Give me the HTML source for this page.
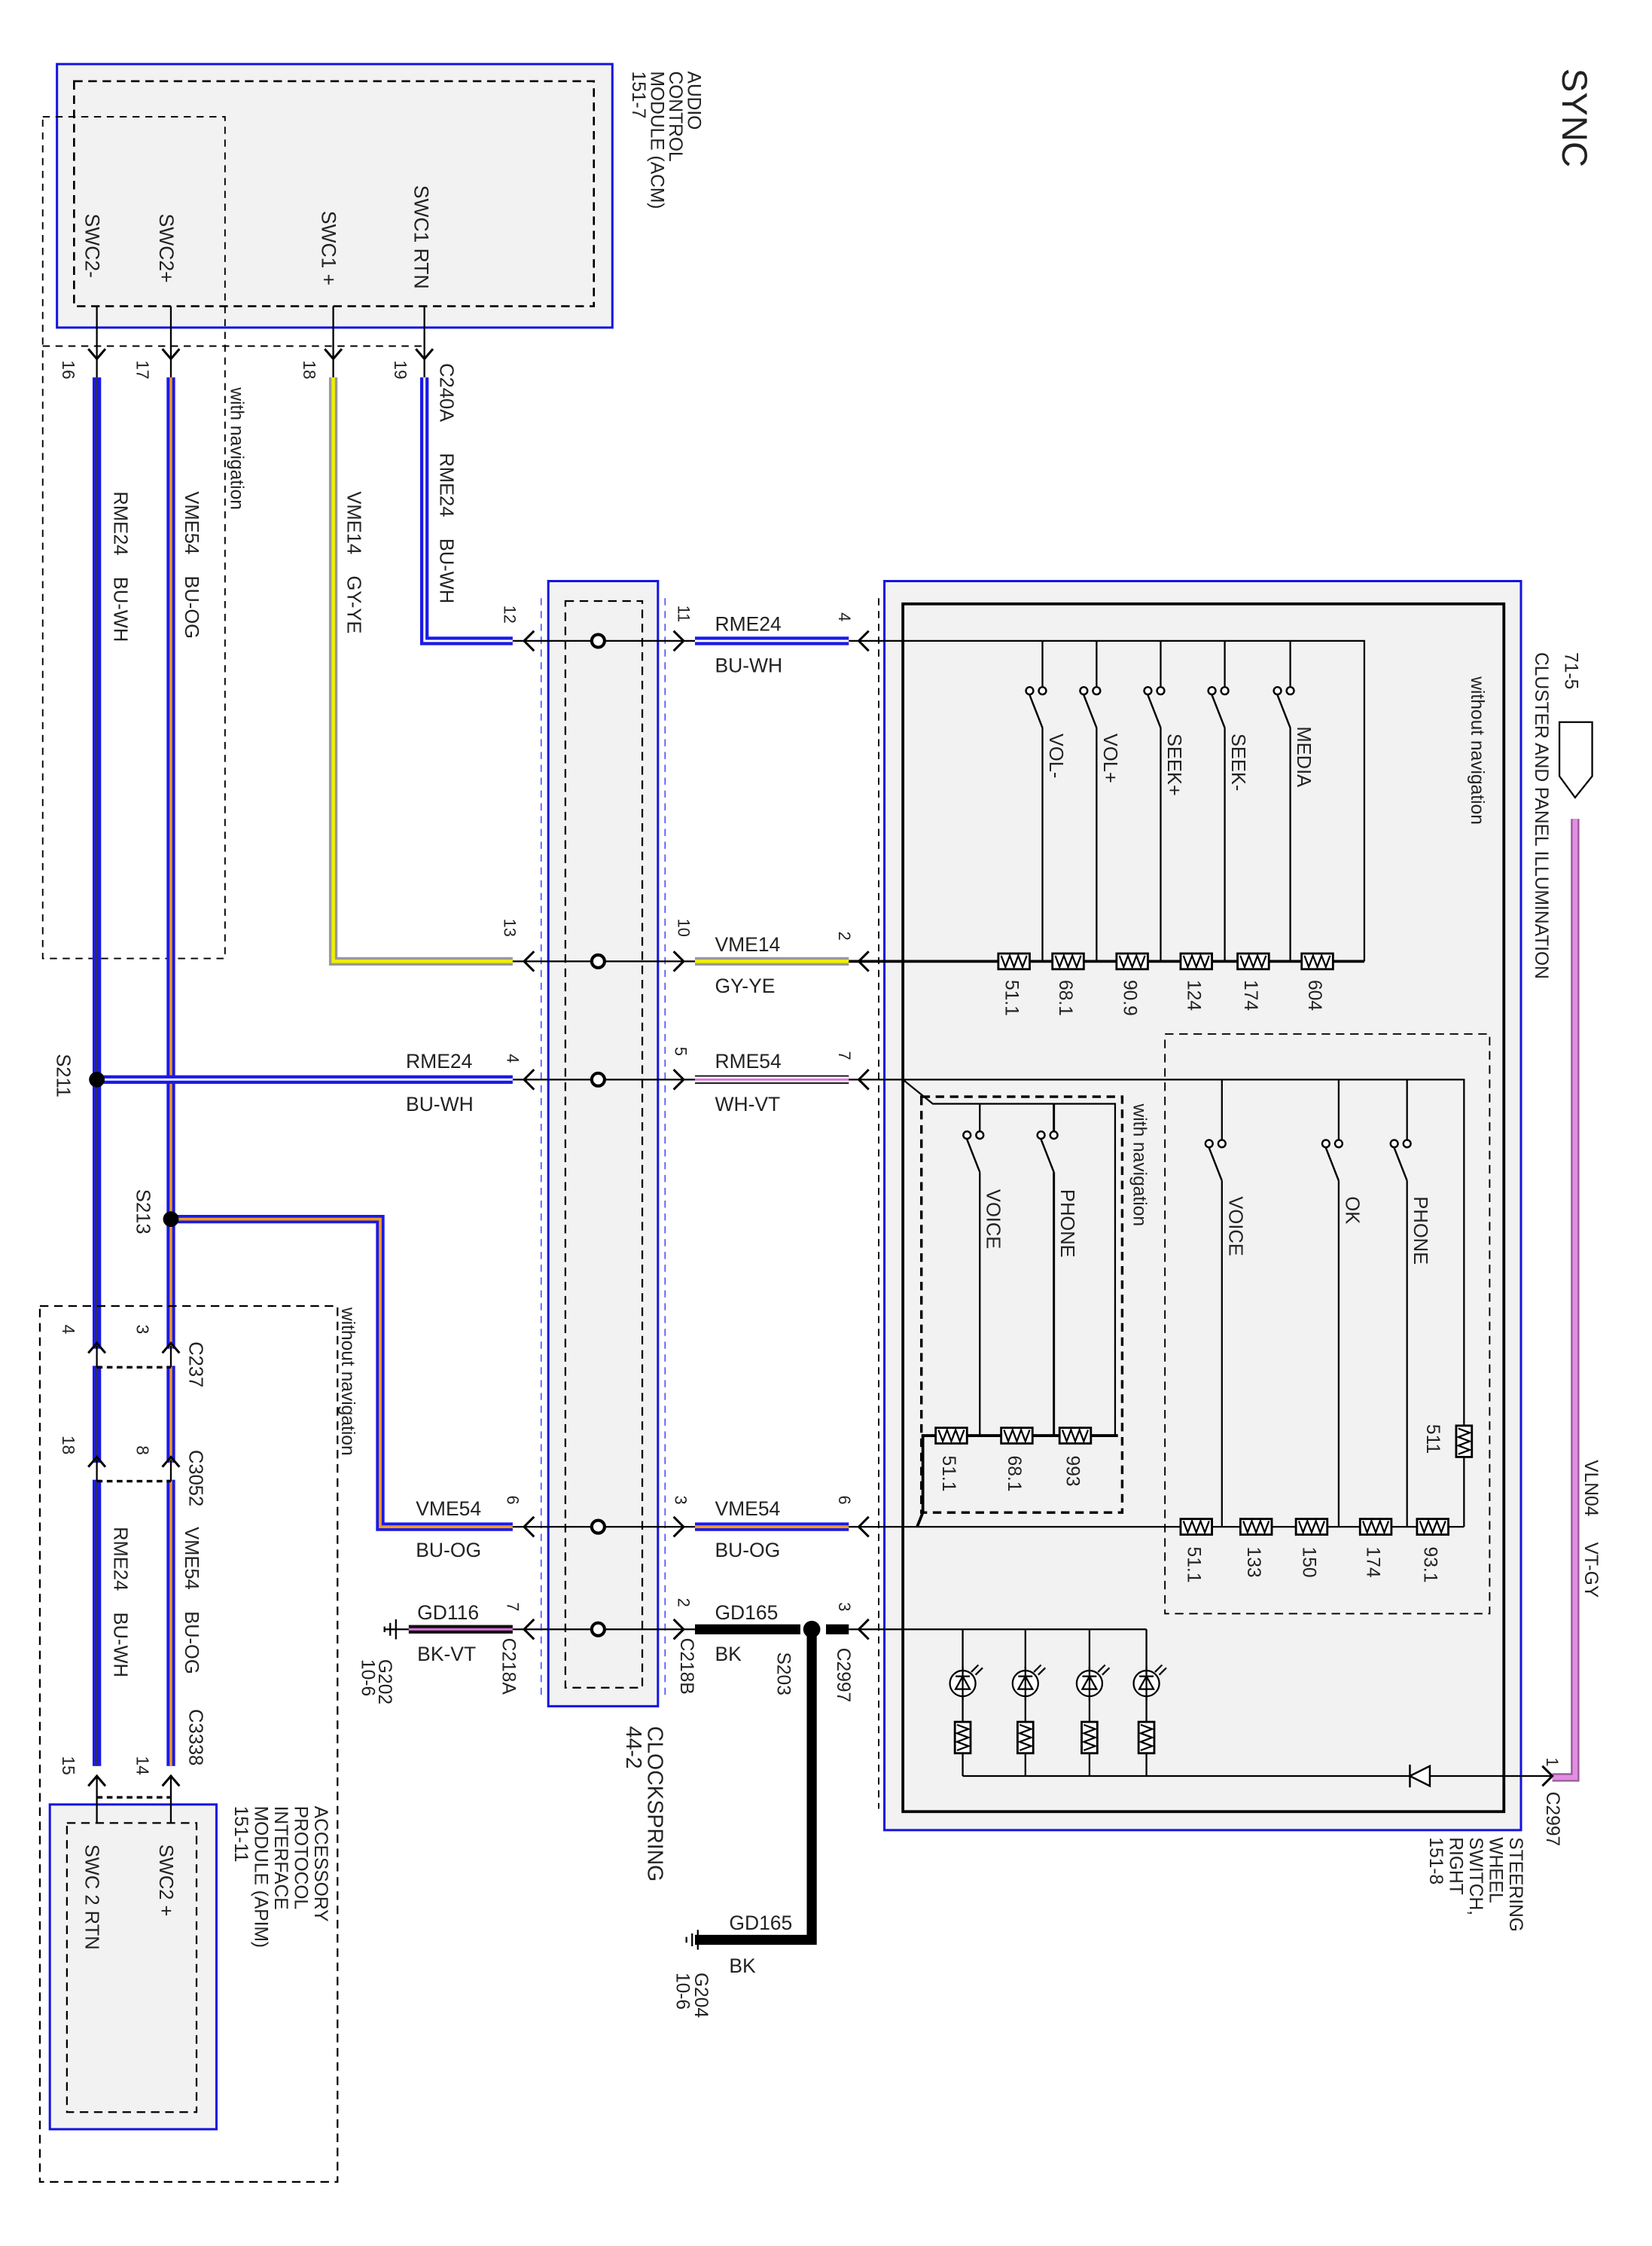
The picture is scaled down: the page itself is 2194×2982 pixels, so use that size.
<!DOCTYPE html>
<html><head><meta charset="utf-8"><style>
html,body{margin:0;padding:0;background:#fff}
svg{display:block}
text{font-family:"Liberation Sans",sans-serif;fill:#222;white-space:pre}
</style></head><body>
<svg width="2194" height="2982" viewBox="0 0 1160 1577" preserveAspectRatio="none" xmlns="http://www.w3.org/2000/svg" xml:space="preserve">
<defs>
<g id="rh"><rect x="-11" y="-5.5" width="22" height="11" fill="#fff" stroke="#000" stroke-width="1.5"/><path d="M-9 -4 L-6 4 L-3 -4 L0 4 L3 -4 L6 4 L9 -4" fill="none" stroke="#000" stroke-width="1.2"/></g>
<g id="rv"><rect x="-5.5" y="-11" width="11" height="22" fill="#fff" stroke="#000" stroke-width="1.5"/><path d="M-4 -9 L4 -6 L-4 -3 L4 0 L-4 3 L4 6 L-4 9" fill="none" stroke="#000" stroke-width="1.2"/></g>
<g id="sw" fill="none" stroke="#000" stroke-width="1.3"><circle cx="0" cy="0" r="2.6" fill="#fff"/><circle cx="-9" cy="0" r="2.6" fill="#fff"/><path d="M-9 3 L0 26"/></g>
<g id="led" fill="none" stroke="#000" stroke-width="1.2"><circle cx="0" cy="0" r="9" fill="#fff"/><path d="M-5 4 L5 4 L0 -5 Z M-5 -5 L5 -5 M0 -12 L0 12"/><path d="M6 -8 L11 -13 M9 -6 L14 -11"/></g>
<g id="cl"><path d="M7 -7 L0 0 L7 7" fill="none" stroke="#000" stroke-width="1.6"/></g>
<g id="cr"><path d="M-7 -7 L0 0 L-7 7" fill="none" stroke="#000" stroke-width="1.6"/></g>
<g id="cd"><path d="M-6 -7 L0 0 L6 -7" fill="none" stroke="#000" stroke-width="1.6"/></g>
<g id="cu"><path d="M-6 7 L0 0 L6 7" fill="none" stroke="#000" stroke-width="1.6"/></g>
<g id="gnd" stroke="#000" stroke-width="1.2"><path d="M0 -7 L0 7 M-4 -4.5 L-4 4.5 M-8 -2 L-8 2"/></g>
</defs>

<!-- SYNC -->
<text transform="translate(1097,48) rotate(90)" font-size="25">SYNC</text>

<!-- ACM -->
<rect x="40" y="45" width="390" height="185" fill="#f2f2f2" stroke="#1414e0" stroke-width="1.6"/>
<rect x="52" y="57" width="365" height="158" fill="none" stroke="#000" stroke-width="1.4" stroke-dasharray="6,4"/>
<g font-size="13">
<text transform="translate(483,50) rotate(90)">AUDIO</text>
<text transform="translate(470,50) rotate(90)">CONTROL</text>
<text transform="translate(457,50) rotate(90)">MODULE (ACM)</text>
<text transform="translate(444,50) rotate(90)">151-7</text>
<text transform="translate(60,150) rotate(90)" font-size="14">SWC2-</text>
<text transform="translate(112,150) rotate(90)" font-size="14">SWC2+</text>
<text transform="translate(226,148) rotate(90)" font-size="14">SWC1 +</text>
<text transform="translate(291,130) rotate(90)" font-size="14">SWC1 RTN</text>
</g>
<rect x="30" y="82" width="128" height="591" fill="none" stroke="#000" stroke-width="1" stroke-dasharray="5,4"/>
<path d="M30 243 L300 243" stroke="#000" stroke-width="1" stroke-dasharray="5,4"/>
<g stroke="#000" stroke-width="1.2">
<path d="M68 215 V265 M120 215 V265 M234 215 V265 M298 215 V265"/>
</g>
<use href="#cd" x="68" y="252"/><use href="#cd" x="120" y="252"/><use href="#cd" x="234" y="252"/><use href="#cd" x="298" y="252"/>
<g font-size="12">
<text transform="translate(44,253) rotate(90)">16</text>
<text transform="translate(96,253) rotate(90)">17</text>
<text transform="translate(213,253) rotate(90)">18</text>
<text transform="translate(277,253) rotate(90)">19</text>
<text transform="translate(309,255) rotate(90)" font-size="13.5">C240A</text>
<text transform="translate(162,272) rotate(90)" font-size="13">with navigation</text>
</g>

<!-- wires left -->
<g fill="none" stroke-linejoin="miter">
<path d="M68 265 V1240" stroke="#1a1ae6" stroke-width="6"/><path d="M68 265 V1240" stroke="#333" stroke-width="1"/>
<path d="M120 265 V1240" stroke="#1a1ae6" stroke-width="6"/><path d="M120 265 V1240" stroke="#f39a1e" stroke-width="1.8"/>
<path d="M234 265 V675 H360" stroke="#999" stroke-width="6"/><path d="M234 265 V675 H360" stroke="#f0f000" stroke-width="2.4"/>
<path d="M298 265 V450 H360" stroke="#1a1ae6" stroke-width="6"/><path d="M298 265 V450 H360" stroke="#fff" stroke-width="1.5"/>
<path d="M68 758 H360" stroke="#1a1ae6" stroke-width="6"/><path d="M68 758 H360" stroke="#fff" stroke-width="1.5"/>
<path d="M120 856 H267 V1072 H360" stroke="#1a1ae6" stroke-width="6"/><path d="M120 856 H267 V1072 H360" stroke="#f39a1e" stroke-width="2"/>
<path d="M287 1144 H360" stroke="#111" stroke-width="6"/><path d="M287 1144 H360" stroke="#e070e0" stroke-width="1.6"/>
</g>
<circle cx="68" cy="758" r="5.5" fill="#000"/>
<circle cx="120" cy="856" r="5.5" fill="#000"/>
<g font-size="13.5">
<text transform="translate(80,345) rotate(90)">RME24    BU-WH</text>
<text transform="translate(130,345) rotate(90)">VME54    BU-OG</text>
<text transform="translate(244,345) rotate(90)">VME14    GY-YE</text>
<text transform="translate(309,318) rotate(90)">RME24    BU-WH</text>
<text transform="translate(40,740) rotate(90)">S211</text>
<text transform="translate(96,835) rotate(90)">S213</text>
</g>

<!-- clockspring -->
<path d="M380 420 V1192 M467 420 V1192" stroke="#44f" stroke-width="0.8" stroke-dasharray="5,4"/>
<rect x="385" y="408" width="77" height="790" fill="#f2f2f2" stroke="#1414e0" stroke-width="1.6"/>
<rect x="397" y="422" width="54" height="763" fill="none" stroke="#000" stroke-width="1.2" stroke-dasharray="6,4"/>
<g stroke="#000" stroke-width="1.2">
<path d="M360 450 H488 M360 675 H488 M360 758 H488 M360 1072 H488 M360 1144 H488"/>
</g>
<g fill="#fff" stroke="#000" stroke-width="2.2">
<circle cx="420" cy="450" r="4.5"/><circle cx="420" cy="675" r="4.5"/><circle cx="420" cy="758" r="4.5"/><circle cx="420" cy="1072" r="4.5"/><circle cx="420" cy="1144" r="4.5"/>
</g>
<use href="#cl" x="368" y="450"/><use href="#cl" x="368" y="675"/><use href="#cl" x="368" y="758"/><use href="#cl" x="368" y="1072"/><use href="#cl" x="368" y="1144"/>
<use href="#cr" x="480" y="450"/><use href="#cr" x="480" y="675"/><use href="#cr" x="480" y="758"/><use href="#cr" x="480" y="1072"/><use href="#cr" x="480" y="1144"/>
<g font-size="11.5">
<text transform="translate(354,425) rotate(90)">12</text>
<text transform="translate(354,645) rotate(90)">13</text>
<text transform="translate(356,740) rotate(90)">4</text>
<text transform="translate(356,1050) rotate(90)">6</text>
<text transform="translate(356,1125) rotate(90)">7</text>
<text transform="translate(476,425) rotate(90)">11</text>
<text transform="translate(476,645) rotate(90)">10</text>
<text transform="translate(474,735) rotate(90)">5</text>
<text transform="translate(474,1050) rotate(90)">3</text>
<text transform="translate(476,1122) rotate(90)">2</text>
<text transform="translate(589,430) rotate(90)">4</text>
<text transform="translate(589,654) rotate(90)">2</text>
<text transform="translate(589,738) rotate(90)">7</text>
<text transform="translate(589,1050) rotate(90)">6</text>
<text transform="translate(589,1125) rotate(90)">3</text>
</g>
<g font-size="14">
<text x="285" y="750">RME24</text><text x="285" y="780">BU-WH</text>
<text x="292" y="1064">VME54</text><text x="292" y="1093">BU-OG</text>
<text x="293" y="1137">GD116</text><text x="293" y="1166">BK-VT</text>
<text x="502" y="443">RME24</text><text x="502" y="472">BU-WH</text>
<text x="502" y="668">VME14</text><text x="502" y="697">GY-YE</text>
<text x="502" y="750">RME54</text><text x="502" y="780">WH-VT</text>
<text x="502" y="1064">VME54</text><text x="502" y="1093">BU-OG</text>
<text x="502" y="1137">GD165</text><text x="502" y="1166">BK</text>
<text x="512" y="1355">GD165</text><text x="512" y="1385">BK</text>
</g>
<g font-size="13">
<text transform="translate(353,1150) rotate(90)">C218A</text>
<text transform="translate(478,1150) rotate(90)">C218B</text>
<text transform="translate(546,1160) rotate(90)">S203</text>
<text transform="translate(588,1157) rotate(90)">C2997</text>
<text transform="translate(266,1165) rotate(90)">G202</text>
<text transform="translate(254,1165) rotate(90)">10-6</text>
<text transform="translate(488,1385) rotate(90)">G204</text>
<text transform="translate(475,1385) rotate(90)">10-6</text>
<text transform="translate(455,1212) rotate(90)" font-size="15">CLOCKSPRING</text>
<text transform="translate(440,1212) rotate(90)" font-size="15">44-2</text>
</g>
<use href="#gnd" x="278" y="1144"/>
<path d="M270 1144 H287" stroke="#000" stroke-width="1.2"/>
<use href="#gnd" x="490" y="1362"/>

<!-- right wires -->
<g fill="none">
<path d="M488 450 H596" stroke="#1a1ae6" stroke-width="6"/><path d="M488 450 H596" stroke="#fff" stroke-width="1.5"/>
<path d="M488 675 H596" stroke="#999" stroke-width="6"/><path d="M488 675 H596" stroke="#f0f000" stroke-width="2.4"/>
<path d="M488 758 H596" stroke="#111" stroke-width="6"/><path d="M488 758 H596" stroke="#fff" stroke-width="4"/><path d="M488 758 H596" stroke="#e070e0" stroke-width="1.5"/>
<path d="M488 1072 H596" stroke="#1a1ae6" stroke-width="6"/><path d="M488 1072 H596" stroke="#f39a1e" stroke-width="2"/>
<path d="M488 1144 H562 M580 1144 H596" stroke="#000" stroke-width="7"/>
<path d="M570 1144 V1362 H488" stroke="#000" stroke-width="7"/>
</g>
<circle cx="570" cy="1144" r="6" fill="#000"/>

<!-- Steering wheel switch -->
<rect x="621" y="408" width="447" height="877" fill="#f2f2f2" stroke="#1414e0" stroke-width="1.6"/>
<rect x="634" y="424" width="422" height="848" fill="#f2f2f2" stroke="#000" stroke-width="2"/>
<path d="M617 420 V1270" stroke="#000" stroke-width="1" stroke-dasharray="5,4"/>
<use href="#cl" x="603" y="450"/><use href="#cl" x="603" y="675"/><use href="#cl" x="603" y="758"/><use href="#cl" x="603" y="1072"/><use href="#cl" x="603" y="1144"/>
<g stroke="#000" stroke-width="1.2" fill="none">
<path d="M596 450 H958 V675"/>
<path d="M596 675 H958" stroke-width="2"/>
<path d="M596 758 H1028 V1001 M1028 1023 V1072"/>
<path d="M596 1072 H1028"/>
<path d="M596 1144 H805"/>
<path d="M732 450 V485 M732 511 V675"/>
<path d="M770 450 V485 M770 511 V675"/>
<path d="M815 450 V485 M815 511 V675"/>
<path d="M860 450 V485 M860 511 V675"/>
<path d="M906 450 V485 M906 511 V675"/>
<path d="M858 758 V803 M858 829 V1072"/>
<path d="M940 758 V803 M940 829 V1072"/>
<path d="M988 758 V803 M988 829 V1072"/>
<path d="M634 758 L655 775 H783 V1008"/>
<path d="M688 775 V797 M688 823 V1008"/>
<path d="M740 775 V797 M740 823 V1008" stroke-width="1.6"/>
<path d="M644 1072 L648 1062 V1008 H785" stroke-width="2"/>
<path d="M676 1144 V1247 M720 1144 V1247 M765 1144 V1247 M805 1144 V1247 M676 1247 H1090"/>
</g>
<g>
<use href="#sw" x="732" y="485"/><use href="#sw" x="770" y="485"/><use href="#sw" x="815" y="485"/><use href="#sw" x="860" y="485"/><use href="#sw" x="906" y="485"/>
<use href="#sw" x="858" y="803"/><use href="#sw" x="940" y="803"/><use href="#sw" x="988" y="803"/>
<use href="#sw" x="688" y="797"/><use href="#sw" x="740" y="797"/>
</g>
<g>
<use href="#rh" x="712" y="675"/><use href="#rh" x="750" y="675"/><use href="#rh" x="795" y="675"/><use href="#rh" x="840" y="675"/><use href="#rh" x="880" y="675"/><use href="#rh" x="925" y="675"/>
<use href="#rh" x="840" y="1072"/><use href="#rh" x="882" y="1072"/><use href="#rh" x="921" y="1072"/><use href="#rh" x="966" y="1072"/><use href="#rh" x="1006" y="1072"/>
<use href="#rh" x="668" y="1008"/><use href="#rh" x="714" y="1008"/><use href="#rh" x="755" y="1008"/>
<use href="#rv" x="1028" y="1012"/>
<use href="#rv" x="676" y="1220"/><use href="#rv" x="720" y="1220"/><use href="#rv" x="765" y="1220"/><use href="#rv" x="805" y="1220"/>
<use href="#led" x="676" y="1182"/><use href="#led" x="720" y="1182"/><use href="#led" x="765" y="1182"/><use href="#led" x="805" y="1182"/>
</g>
<g stroke="#000" stroke-width="1.3" fill="#fff"><path d="M1004 1240 L1004 1254 L990 1247 Z"/><path d="M990 1239 V1255"/></g>
<rect x="818" y="726" width="228" height="407" fill="none" stroke="#000" stroke-width="1" stroke-dasharray="6,4"/>
<rect x="647" y="770" width="141" height="292" fill="none" stroke="#000" stroke-width="1.8" stroke-dasharray="6,4"/>
<g font-size="13.5">
<text transform="translate(737,515) rotate(90)">VOL-</text>
<text transform="translate(775,515) rotate(90)">VOL+</text>
<text transform="translate(820,515) rotate(90)">SEEK+</text>
<text transform="translate(865,515) rotate(90)">SEEK-</text>
<text transform="translate(911,510) rotate(90)">MEDIA</text>
<text transform="translate(863,840) rotate(90)">VOICE</text>
<text transform="translate(945,840) rotate(90)">OK</text>
<text transform="translate(993,840) rotate(90)">PHONE</text>
<text transform="translate(693,835) rotate(90)">VOICE</text>
<text transform="translate(745,835) rotate(90)">PHONE</text>
<text transform="translate(1033,475) rotate(90)" font-size="13">without navigation</text>
<text transform="translate(796,775) rotate(90)" font-size="13">with navigation</text>
</g>
<g font-size="13">
<text transform="translate(706,688) rotate(90)">51.1</text>
<text transform="translate(744,688) rotate(90)">68.1</text>
<text transform="translate(789,688) rotate(90)">90.9</text>
<text transform="translate(834,688) rotate(90)">124</text>
<text transform="translate(874,688) rotate(90)">174</text>
<text transform="translate(919,688) rotate(90)">604</text>
<text transform="translate(834,1086) rotate(90)">51.1</text>
<text transform="translate(876,1086) rotate(90)">133</text>
<text transform="translate(915,1086) rotate(90)">150</text>
<text transform="translate(960,1086) rotate(90)">174</text>
<text transform="translate(1000,1086) rotate(90)">93.1</text>
<text transform="translate(662,1022) rotate(90)">51.1</text>
<text transform="translate(708,1022) rotate(90)">68.1</text>
<text transform="translate(749,1022) rotate(90)">993</text>
<text transform="translate(1002,1000) rotate(90)">511</text>
</g>

<!-- pink VLN04 -->
<path d="M1095 507 H1118 V545 L1106 560 L1095 545 Z" fill="#fff" stroke="#000" stroke-width="1.2"/>
<path d="M1106 575 V1248 H1090" fill="none" stroke="#9a5a9a" stroke-width="6"/>
<path d="M1106 575 V1248 H1090" fill="none" stroke="#e38ee3" stroke-width="3.5"/>
<use href="#cr" x="1090" y="1247"/>
<g font-size="13">
<text transform="translate(1099,458) rotate(90)">71-5</text>
<text transform="translate(1078,458) rotate(90)">CLUSTER AND PANEL ILLUMINATION</text>
<text transform="translate(1113,1025) rotate(90)">VLN04     VT-GY</text>
<text transform="translate(1086,1234) rotate(90)" font-size="11.5">1</text>
<text transform="translate(1086,1258) rotate(90)">C2997</text>
<text transform="translate(1060,1290) rotate(90)">STEERING</text>
<text transform="translate(1046,1290) rotate(90)">WHEEL</text>
<text transform="translate(1032,1290) rotate(90)">SWITCH,</text>
<text transform="translate(1018,1290) rotate(90)">RIGHT</text>
<text transform="translate(1004,1290) rotate(90)">151-8</text>
</g>

<!-- bottom left APIM -->
<rect x="28" y="917" width="209" height="615" fill="none" stroke="#000" stroke-width="1.2" stroke-dasharray="6,4"/>
<rect x="35" y="1267" width="117" height="228" fill="#f2f2f2" stroke="#1414e0" stroke-width="1.6"/>
<rect x="47" y="1280" width="91" height="203" fill="none" stroke="#000" stroke-width="1.2" stroke-dasharray="6,4"/>
<g fill="#fff" stroke="none">
<rect x="62" y="947" width="64" height="12"/><rect x="62" y="1027" width="64" height="12"/><rect x="62" y="1250" width="64" height="10"/>
</g>
<g stroke="#000" stroke-width="1.2" fill="none">
<path d="M68 945 V960 M120 945 V960 M68 1025 V1040 M120 1025 V1040 M68 1248 V1280 M120 1248 V1280"/>
<path d="M68 960 H120 M68 1040 H120 M68 1262 H120" stroke-dasharray="4,3" stroke-width="1.8"/>
</g>
<use href="#cu" x="68" y="943"/><use href="#cu" x="120" y="943"/>
<use href="#cu" x="68" y="1023"/><use href="#cu" x="120" y="1023"/>
<use href="#cu" x="68" y="1247"/><use href="#cu" x="120" y="1247"/>
<g font-size="12">
<text transform="translate(44,930) rotate(90)">4</text>
<text transform="translate(96,930) rotate(90)">3</text>
<text transform="translate(44,1008) rotate(90)">18</text>
<text transform="translate(96,1015) rotate(90)">8</text>
<text transform="translate(44,1233) rotate(90)">15</text>
<text transform="translate(96,1233) rotate(90)">14</text>
</g>
<g font-size="13.5">
<text transform="translate(133,942) rotate(90)">C237</text>
<text transform="translate(133,1018) rotate(90)">C3052</text>
<text transform="translate(133,1200) rotate(90)">C3338</text>
<text transform="translate(80,1072) rotate(90)">RME24    BU-WH</text>
<text transform="translate(130,1072) rotate(90)">VME54    BU-OG</text>
<text transform="translate(240,918) rotate(90)" font-size="13">without navigation</text>
<text transform="translate(112,1295) rotate(90)">SWC2 +</text>
<text transform="translate(60,1295) rotate(90)">SWC 2 RTN</text>
<text transform="translate(221,1268) rotate(90)" font-size="13">ACCESSORY</text>
<text transform="translate(207,1268) rotate(90)" font-size="13">PROTOCOL</text>
<text transform="translate(193,1268) rotate(90)" font-size="13">INTERFACE</text>
<text transform="translate(179,1268) rotate(90)" font-size="13">MODULE (APIM)</text>
<text transform="translate(165,1268) rotate(90)" font-size="13">151-11</text>
</g>
</svg>
</body></html>
